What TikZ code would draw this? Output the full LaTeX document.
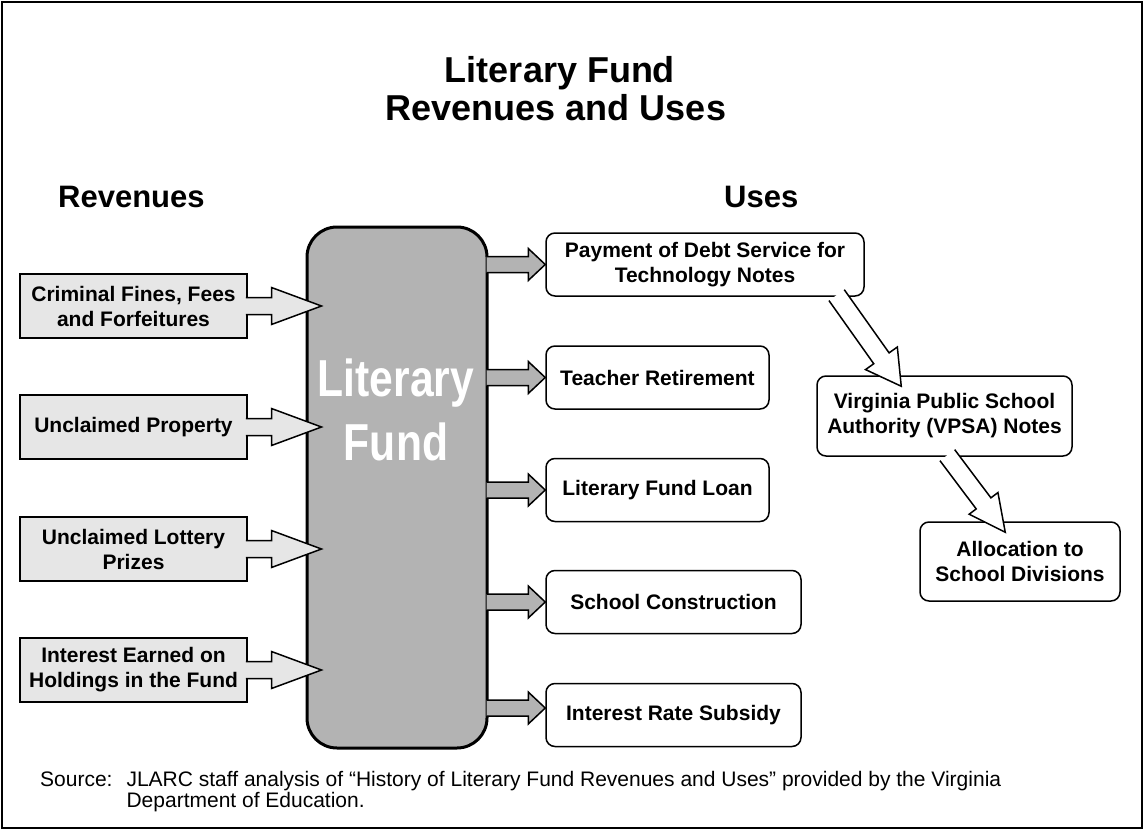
\documentclass[tikz,border=0pt]{standalone}
\usepackage{fontspec}
\setmainfont{Liberation Sans}
\newfontfamily\narrowfont[FakeStretch=0.82]{Liberation Sans}
\usetikzlibrary{calc}

\definecolor{fundgray}{HTML}{B3B3B3}
\definecolor{revgray}{HTML}{E6E6E6}

% block arrow: #1 fill, #2 start, #3 tip, #4 half shaft, #5 half head, #6 head length
\newcommand{\fatarrow}[6]{%
    \filldraw[fill=#1, line width=1.5pt, line join=miter]
        let \p1=($(#3)-(#2)$), \n1={atan2(\y1,\x1)}, \n2={veclen(\x1,\y1)} in
        ([shift={(#2)},rotate=\n1]-2pt,#4)
        -- ([shift={(#2)},rotate=\n1]{\n2-#6},#4)
        -- ([shift={(#2)},rotate=\n1]{\n2-#6},#5)
        -- (#3)
        -- ([shift={(#2)},rotate=\n1]{\n2-#6},-#5)
        -- ([shift={(#2)},rotate=\n1]{\n2-#6},-#4)
        -- ([shift={(#2)},rotate=\n1]-2pt,-#4);
}

\begin{document}
\begin{tikzpicture}[x=1pt, y=-1pt]
    \tikzstyle{every node}=[inner sep=0pt]
    \tikzstyle{revbox}=[draw, fill=revgray, line width=1.5pt, minimum width=227pt, minimum height=64pt, align=center, font=\fontsize{21}{25}\selectfont\bfseries]
    \tikzstyle{usebox}=[draw, fill=white, rounded corners=9pt, line width=1.5pt, minimum height=63pt, align=center, font=\fontsize{21}{25}\selectfont\bfseries]
    \tikzstyle{heading}=[anchor=base west, font=\fontsize{31}{36}\selectfont\bfseries]
    \tikzstyle{titletext}=[anchor=base, font=\fontsize{36}{40}\selectfont\bfseries]
    \tikzstyle{fundtext}=[anchor=base, text=white, font=\narrowfont\fontsize{52}{60}\selectfont\bfseries]

    \useasboundingbox (0,0) rectangle (1144,830);
    \draw[line width=1.5pt] (2,2) rectangle (1142,828);

    \node[titletext] (title) at (560,82) {Literary Fund};
    \node[titletext] (subtitle) at (556,120) {Revenues and Uses};
    \node[heading] (revhead) at (58,207) {Revenues};
    \node[heading] (usehead) at (724,207) {Uses};

    \node[draw, fill=fundgray, line width=3pt, rounded corners=30pt, minimum width=180pt, minimum height=521pt] (fund) at (397,487.5) {};
    \node[fundtext] (fundtop) at (396,396) {Literary};
    \node[fundtext] (fundbot) at (396,460) {Fund};

    \node[revbox] (crim) at (133.5,306) {Criminal Fines, Fees\\and Forfeitures};
    \node[revbox] (prop) at (133.5,427) {Unclaimed Property};
    \node[revbox] (lott) at (133.5,549) {Unclaimed Lottery\\Prizes};
    \node[revbox] (intr) at (133.5,670) {Interest Earned on\\Holdings in the Fund};

    \foreach \r in {crim,prop,lott,intr} {
        \coordinate (\r-tip) at ($(\r.east -| fund.west)+(16,0)$);
        \fatarrow{revgray}{\r.east}{\r-tip}{8.5pt}{18.5pt}{50pt}
    }

    \node[usebox, minimum width=318pt] (pay) at (705,264.5) {Payment of Debt Service for\\Technology Notes};
    \node[usebox, minimum width=223pt] (teach) at (657.5,377.5) {Teacher Retirement};
    \node[usebox, minimum width=223pt] (loan) at (657.5,490) {Literary Fund Loan};
    \node[usebox, minimum width=255pt] (build) at (673.5,602) {School Construction};
    \node[usebox, minimum width=255pt] (subs) at (673.5,715) {Interest Rate Subsidy};
    \node[usebox, minimum width=255pt, minimum height=80pt] (vpsa) at (944.5,416) {Virginia Public School\\Authority (VPSA) Notes};
    \node[usebox, minimum width=200pt, minimum height=79pt] (alloc) at (1020,561.5) {Allocation to\\School Divisions};

    \foreach \u in {pay,teach,loan,build} {
        \fatarrow{fundgray}{fund.east |- \u.west}{\u.west}{8pt}{16pt}{17pt}
    }
    \coordinate (subs-tip) at ($(subs.west)+(0,-7)$);
    \fatarrow{fundgray}{fund.east |- subs-tip}{subs-tip}{8pt}{16pt}{17pt}

    \coordinate (pv-a) at ($(pay.south east)+(-27,0)$);
    \coordinate (pv-b) at ($(vpsa.north west)+(85,11)$);
    \fatarrow{white}{pv-a}{pv-b}{9.4pt}{19.5pt}{34pt}
    \coordinate (va-a) at ($(vpsa.south)+(4,0)$);
    \coordinate (va-b) at ($(alloc.north west)+(86,11)$);
    \fatarrow{white}{va-a}{va-b}{9.2pt}{18pt}{36pt}

    \node[anchor=base west, font=\fontsize{21}{21}\selectfont] (source) at (40,786) {\begin{tabular}[t]{@{}l@{\hspace{14pt}}l@{}}Source: & JLARC staff analysis of “History of Literary Fund Revenues and Uses” provided by the Virginia\\ & Department of Education.\end{tabular}};
\end{tikzpicture}
\end{document}
